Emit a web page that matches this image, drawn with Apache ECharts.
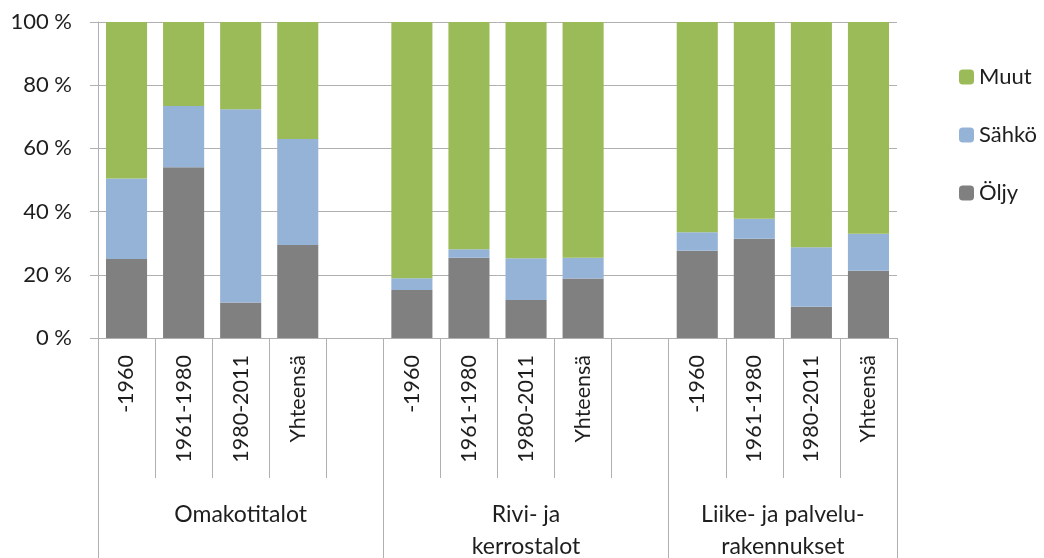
<!DOCTYPE html>
<html><head><meta charset="utf-8">
<script src="https://cdn.jsdelivr.net/npm/echarts@6/dist/echarts.min.js"></script>
<style>html,body{margin:0;padding:0;background:#fff}#c{width:1044px;height:558px}</style>
</head><body><div id="c"></div>
<script>
const categories = ['-1960','1961-1980','1980-2011','Yhteensä','','-1960','1961-1980','1980-2011','Yhteensä','','-1960','1961-1980','1980-2011','Yhteensä'];
const groups = ['Omakotitalot','Rivi- ja\nkerrostalot','Liike- ja palvelu-\nrakennukset'];
const groupCenters = [2.5, 7.5, 12];
const groupBounds = [0, 5, 10, 14];
const oljy  = [25.0, 54.0, 11.2, 29.4, null, 15.2, 25.4, 12.0, 18.8, null, 27.6, 31.4, 9.9, 21.3];
const sahko = [25.5, 19.4, 61.2, 33.6, null, 3.7, 2.7, 13.2, 6.6, null, 5.9, 6.3, 18.8, 11.7];
const muut  = [49.5, 26.6, 27.6, 37.0, null, 81.1, 71.9, 74.8, 74.6, null, 66.5, 62.3, 71.3, 67.0];
const yTicks = [0, 20, 40, 60, 80, 100];

const FONT = 'Lato';
const TXT = '#1e1e1e';
const LINE = '#b0b0b0';
const chart = echarts.init(document.getElementById('c'));
chart.setOption({
  animation: false,
  textStyle: {fontFamily: FONT},
  grid: {left: 98, right: 147, top: 22, bottom: 220, containLabel: false, outerBoundsMode: 'none'},
  legend: {
    orient: 'vertical', left: 954, top: 61, itemWidth: 15, itemHeight: 15, itemGap: 36,
    data: ['Muut', 'Sähkö', 'Öljy'],
    textStyle: {fontSize: 22, color: TXT, fontFamily: FONT}
  },
  xAxis: [{
    type: 'category', data: categories, boundaryGap: true,
    axisLine: {show: true, lineStyle: {color: LINE}},
    axisTick: {show: true, interval: 0, length: 140, lineStyle: {color: LINE}},
    axisLabel: {interval: 0, rotate: 90, margin: 17, fontSize: 21.5, color: TXT, fontFamily: FONT}
  }, {
    type: 'value', min: 0, max: 14, position: 'bottom', offset: 140,
    axisLine: {show: false},
    splitLine: {show: false},
    axisTick: {show: true, customValues: groupBounds, length: 80, lineStyle: {color: LINE}},
    axisLabel: {
      customValues: groupCenters, margin: 21, fontSize: 23, lineHeight: 32, color: TXT, fontFamily: FONT,
      formatter: v => groups[groupCenters.indexOf(v)] || ''
    }
  }],
  yAxis: {
    type: 'value', min: 0, max: 100, interval: 20,
    axisLine: {show: true, lineStyle: {color: LINE}},
    axisTick: {show: true, length: 8, lineStyle: {color: LINE}},
    splitLine: {lineStyle: {color: LINE}},
    axisLabel: {formatter: v => v + ' %', fontSize: 22, color: TXT, margin: 26, fontFamily: FONT}
  },
  series: [
    {name: 'Öljy', type: 'bar', stack: 's', data: oljy, barCategoryGap: '28%', itemStyle: {color: '#808080'}},
    {name: 'Sähkö', type: 'bar', stack: 's', data: sahko, itemStyle: {color: '#95b3d7'}},
    {name: 'Muut', type: 'bar', stack: 's', data: muut, itemStyle: {color: '#9bbb59'}}
  ]
});
</script></body></html>
